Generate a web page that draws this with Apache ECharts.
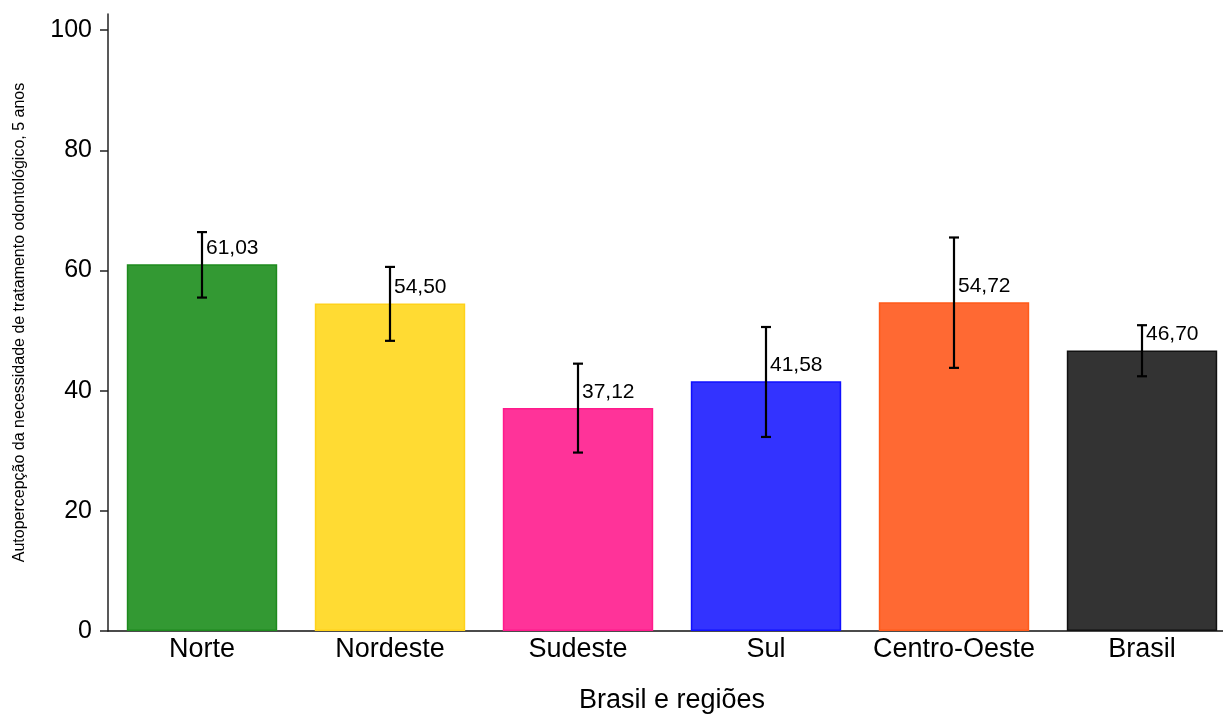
<!DOCTYPE html>
<html>
<head>
<meta charset="utf-8">
<script src="https://cdn.jsdelivr.net/npm/echarts@6/dist/echarts.min.js"></script>
<style>
html,body{margin:0;padding:0;background:#fff;}
#chart{width:1223px;height:715px;}
</style>
</head>
<body>
<div id="chart"></div>
<script>
var categories = ['Norte', 'Nordeste', 'Sudeste', 'Sul', 'Centro-Oeste', 'Brasil'];
var values = [61.03, 54.50, 37.12, 41.58, 54.72, 46.70];
var lowerCI = [55.5, 48.3, 29.7, 32.3, 43.8, 42.4];
var upperCI = [66.4, 60.6, 44.5, 50.6, 65.5, 50.9];
var fillColors = ['#339933', '#FFDB33', '#FF3399', '#3333FF', '#FF6933', '#333333'];
var borderColors = ['#1E8A1E', '#FFD21A', '#FF1A8C', '#1010FF', '#FF5A1A', '#111111'];
var yTicks = [0, 20, 40, 60, 80, 100];

var FONT = '"Liberation Sans", Arial, sans-serif';

var chart = echarts.init(document.getElementById('chart'), null, {renderer: 'canvas'});

var barData = values.map(function (v, i) {
  return {
    value: v,
    itemStyle: {color: fillColors[i], borderColor: borderColors[i], borderWidth: 1.5}
  };
});
var errData = values.map(function (v, i) {
  return [i, lowerCI[i], upperCI[i], v];
});

chart.setOption({
  animation: false,
  backgroundColor: '#ffffff',
  grid: {left: 108, top: 14, width: 1128, height: 617, containLabel: false, outerBoundsMode: 'none'},
  xAxis: {
    type: 'category',
    data: categories,
    name: 'Brasil e regiões',
    nameLocation: 'middle',
    nameGap: 56,
    nameTextStyle: {fontFamily: FONT, fontSize: 27, color: '#000'},
    axisLine: {show: true, lineStyle: {color: '#111', width: 1.5}},
    axisTick: {show: false},
    axisLabel: {fontFamily: FONT, fontSize: 27, color: '#000', margin: 5, interval: 0}
  },
  yAxis: {
    type: 'value',
    min: 0,
    max: 102.7,
    name: 'Autopercepção da necessidade de tratamento odontológico, 5 anos',
    nameLocation: 'middle',
    nameGap: 80,
    nameRotate: 90,
    nameTextStyle: {fontFamily: FONT, fontSize: 16, color: '#000'},
    axisLine: {show: true, lineStyle: {color: '#222', width: 1.5}},
    axisTick: {show: true, length: 8, lineStyle: {color: '#222', width: 1.5}, customValues: yTicks},
    axisLabel: {fontFamily: FONT, fontSize: 25, color: '#000', margin: 16, customValues: yTicks},
    splitLine: {show: false}
  },
  series: [
    {
      type: 'bar',
      data: barData,
      barCategoryGap: '20%',
      z: 2
    },
    {
      type: 'custom',
      data: errData,
      z: 5,
      renderItem: function (params, api) {
        var idx = api.value(0);
        var lo = api.coord([idx, api.value(1)]);
        var hi = api.coord([idx, api.value(2)]);
        var mid = api.coord([idx, api.value(3)]);
        var x = hi[0];
        var cap = 5;
        var ls = {stroke: '#000', lineWidth: 2.2};
        var label = api.value(3).toFixed(2).replace('.', ',');
        return {
          type: 'group',
          children: [
            {type: 'line', shape: {x1: x, y1: hi[1], x2: x, y2: lo[1]}, style: ls},
            {type: 'line', shape: {x1: x - cap, y1: hi[1], x2: x + cap, y2: hi[1]}, style: ls},
            {type: 'line', shape: {x1: x - cap, y1: lo[1], x2: x + cap, y2: lo[1]}, style: ls},
            {type: 'text', style: {
              x: x + 4, y: mid[1] - 16, text: label,
              fill: '#000', font: '21px ' + FONT,
              align: 'left', verticalAlign: 'middle'
            }}
          ]
        };
      }
    }
  ]
});
</script>
</body>
</html>
